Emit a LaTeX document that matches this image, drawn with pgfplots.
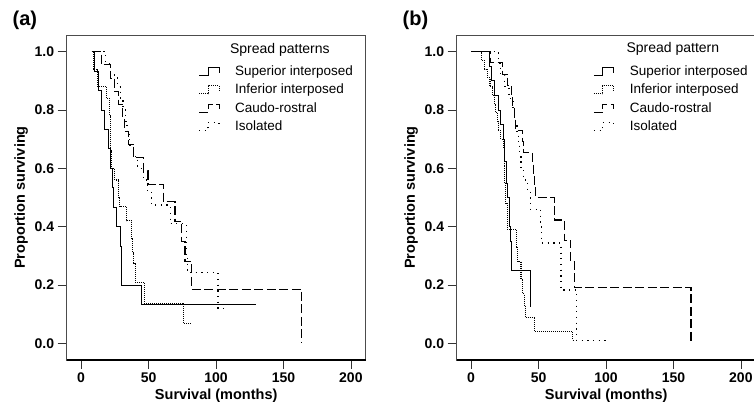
\documentclass[border=0pt]{standalone}
\usepackage{fontspec}
\setmainfont{Liberation Sans}
\usepackage{pgfplots}
\pgfplotsset{compat=1.18}

\pgfplotsset{
  kmpanel/.style={
    scale only axis, width=299pt, height=325pt,
    xmin=-10.7, xmax=211, ymin=-0.057, ymax=1.057,
    xtick={0,50,100,150,200}, ytick={0,0.2,0.4,0.6,0.8,1.0},
    xtick pos=bottom, ytick pos=left, tick align=outside,
    major tick length=9pt,
    axis line style={black!70, line width=0.6pt},
    tick style={black!80, line width=0.7pt},
    ticklabel style={font=\fontsize{14}{16}\selectfont\bfseries},
    /pgf/number format/assume math mode=true,
    yticklabel style={/pgf/number format/.cd, fixed, fixed zerofill, precision=1},
    label style={font=\fontsize{14.5}{16}\selectfont\bfseries},
    xlabel={Survival (months)}, ylabel={Proportion surviving},
    legend style={draw=none, fill=none, inner sep=0pt,
      font=\fontsize{13.5}{15}\selectfont,
      nodes={inner sep=1pt, text height=10.5pt, text depth=3pt},
      row sep=2.9pt, column sep=14.5pt, anchor=north west},
    legend cell align=left,
    legend image code/.code={
      \draw[#1] (0pt,-4pt) -- (9pt,-4pt) -- (9pt,4pt) -- (20pt,4pt) -- (20pt,-1pt);},
    clip=false,
  },
  sup/.style={black, line width=0.8pt, const plot},
  inf/.style={black, line width=1.1pt, dash pattern=on 1pt off 1pt, const plot},
  cau/.style={black, line width=1.1pt, dash pattern=on 9pt off 3.5pt, const plot},
  iso/.style={black, line width=1.2pt, dash pattern=on 1.2pt off 4.5pt, const plot},
}

\begin{document}
\begin{tikzpicture}[x=1pt,y=1pt]
\path[use as bounding box, fill=white] (0,0) rectangle (754,409);

\node[anchor=base west, inner sep=0pt, font=\fontsize{20}{22}\selectfont\bfseries] at (12.5,383) {(a)};
\node[anchor=base west, inner sep=0pt, font=\fontsize{20}{22}\selectfont\bfseries] at (402.5,383) {(b)};

% ---- panel (a)
\begin{axis}[kmpanel, at={(66.7pt,49pt)}, anchor=south west,
  legend style={at={(0.44,0.912)}}]
\addplot[sup] coordinates {
(8,1.0) (10,0.933) (13,0.867) (15,0.8) (17,0.733) (20,0.667) (22,0.6)
(23,0.533) (24,0.467) (26.4,0.4) (28.9,0.333) (30.1,0.2) (44.4,0.133) (130,0.133)};
\addlegendentry{Superior interposed}
\addplot[inf] coordinates {
(8,1.0) (9,0.94) (12,0.88) (19,0.84) (21,0.78) (21.5,0.72) (22,0.66)
(22.5,0.60) (25,0.56) (28,0.50) (28.5,0.47) (33.8,0.42) (37.5,0.36)
(38,0.31) (38.5,0.275) (40,0.208) (46.7,0.138) (75.8,0.069) (82,0.069)};
\addlegendentry{Inferior interposed}
\addplot[cau] coordinates {
(8,1.0) (15,0.955) (21.5,0.909) (25,0.864) (28,0.818) (31,0.773) (32,0.727)
(35,0.682) (38.5,0.636) (46,0.591) (49.6,0.545) (61,0.486) (69.6,0.417)
(74.6,0.348) (77,0.28) (82,0.186) (163.5,0.0)};
\addlegendentry{Caudo-rostral}
\addplot[iso] coordinates {
(8,1.0) (18,0.96) (22,0.92) (27,0.88) (29,0.84) (31,0.80) (33,0.76) (34,0.72)
(36,0.68) (39,0.64) (42,0.60) (46,0.56) (49,0.52) (52,0.474) (66,0.41)
(78,0.30) (79,0.242) (101.5,0.12) (108,0.12)};
\addlegendentry{Isolated}
\node[font=\fontsize{14}{16}\selectfont] at (rel axis cs:0.713,0.954) {Spread patterns};
\draw[black, line width=1.1pt] (rel axis cs:0,0) -- (rel axis cs:1,0);
\end{axis}

% ---- panel (b)
\begin{axis}[kmpanel, at={(456.7pt,49pt)}, anchor=south west,
  legend style={at={(0.456,0.912)}}]
\addplot[sup] coordinates {
(0,1.0) (13.4,0.95) (15,0.90) (17,0.85) (20,0.80) (22,0.75) (24,0.70)
(25,0.625) (26,0.55) (27,0.50) (28,0.45) (28.5,0.40) (29,0.35) (29.5,0.30)
(30,0.251) (43.8,0.126) (44.5,0.126)};
\addlegendentry{Superior interposed}
\addplot[inf] coordinates {
(0,1.0) (8,0.97) (10,0.94) (12,0.91) (14,0.88) (16,0.85) (17,0.82) (18,0.79)
(19.5,0.76) (20,0.73) (22,0.70) (24,0.67) (24.5,0.61) (25,0.55) (25.5,0.48)
(26.9,0.39) (33.7,0.33) (34.5,0.28) (37,0.22) (38,0.17) (39.3,0.13) (40,0.09)
(47,0.04) (75,0.011) (76,0.011)};
\addlegendentry{Inferior interposed}
\addplot[cau] coordinates {
(0,1.0) (14,0.962) (23,0.923) (27,0.885) (30,0.846) (31,0.808) (32,0.769)
(33,0.731) (38,0.692) (39,0.654) (45.5,0.615) (46,0.577) (47,0.538) (48,0.50)
(61.6,0.462) (62,0.423) (69,0.354) (74,0.28) (76.6,0.192) (163,0.0)};
\addlegendentry{Caudo-rostral}
\addplot[iso] coordinates {
(0,1.0) (20.5,0.96) (22,0.92) (25,0.88) (28,0.84) (31,0.80) (32,0.76) (34,0.72)
(35,0.68) (36,0.64) (37,0.60) (39,0.56) (42,0.52) (44,0.46) (51.7,0.40)
(52.2,0.344) (66.6,0.183) (78,0.011) (102.6,0.011)};
\addlegendentry{Isolated}
\node[font=\fontsize{14}{16}\selectfont] at (rel axis cs:0.723,0.957) {Spread pattern};
\draw[black, line width=1.1pt] (rel axis cs:0,0) -- (rel axis cs:1,0);
\end{axis}
\end{tikzpicture}
\end{document}
